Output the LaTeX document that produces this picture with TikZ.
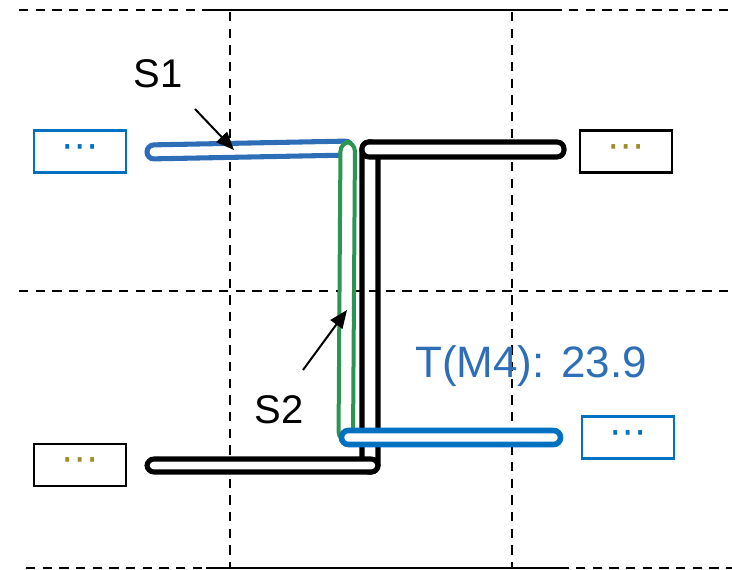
\documentclass[tikz,border=0pt]{standalone}
\usepackage{fontspec}
\setmainfont{Liberation Sans}
\newfontfamily\dotsfont{DejaVu Sans}
\usetikzlibrary{arrows.meta}
\definecolor{boxblue}{RGB}{0,112,192}
\definecolor{barblue}{RGB}{46,110,183}
\definecolor{bargreen}{RGB}{42,150,82}
\definecolor{olive}{RGB}{160,140,40}
\tikzset{
  grid/.style={line width=1.4pt, dash pattern=on 7pt off 5.5pt},
  frameline/.style={line width=1.4pt},
  infobox/.style={draw, line width=1.7pt, minimum width=69pt, minimum height=31.5pt, inner sep=0pt,
     font=\dotsfont\fontsize{28}{28}\selectfont},
  capsule/.style={line width=3.8pt, rounded corners=5.2pt, fill=white},
  lbl/.style={font=\fontsize{30}{30}\selectfont, inner sep=0pt},
  pointer/.style={line width=1.5pt, -{Triangle[length=13.5pt,width=11pt]}}
}
\begin{document}
\begin{tikzpicture}[x=0.75pt,y=-0.75pt]
\useasboundingbox (0,0) rectangle (732,570);
% grid
\draw[grid] (19,10) -- (732,10);
\draw[frameline] (202,10) -- (556,10);
\draw[grid] (19,291) -- (732,291);
\draw[grid] (26,568) -- (732,568);
\draw[frameline] (206,568) -- (559,568);
\draw[grid] (230,12) -- (230,568);
\draw[grid] (512,12) -- (512,568);
% boxes
\node[infobox, draw=boxblue, text=boxblue] (b1) at (80,151.5) {⋯};
\node[infobox, draw=black, text=olive] (b2) at (626,151.5) {⋯};
\node[infobox, draw=black, text=olive] (b3) at (80,465) {⋯};
\node[infobox, draw=boxblue, text=boxblue] (b4) at (628,437.5) {⋯};
% S1 bar (slanted blue)
\draw[capsule, draw=barblue] (147,145) -- (352,141) -- (352,155) -- (147,159) -- cycle;
% black Z shape
\draw[line width=3.8pt, rounded corners=5pt] (362,142) rectangle (378,472);
\draw[capsule, draw=black] (362,142) rectangle (564,157);
\draw[capsule, draw=black] (147,459) rectangle (378,472);
% green S2 bar
\draw[line width=3pt, rounded corners=7pt, draw=bargreen, fill=white] (340.5,142) -- (355,142) -- (353,441) -- (338.5,441) -- cycle;
% blue bottom bar
\draw[capsule, line width=4.2pt, draw=boxblue] (341.5,430.5) rectangle (560.5,444.5);
% labels
\node[lbl] (s1) at (158,74) {S1};
\node[lbl] (s2) at (279,410) {S2};
\node[lbl, text=barblue, font=\fontsize{33}{33}\selectfont] (tm4) at (531,366) {T(M4): 23.9};
\coordinate (s1from) at (195,109);
\coordinate (s1to) at (234,150);
\coordinate (s2from) at (303,370);
\coordinate (s2to) at (347,310);
\draw[pointer] (s1from) -- (s1to);
\draw[pointer] (s2from) -- (s2to);
\end{tikzpicture}
\end{document}
